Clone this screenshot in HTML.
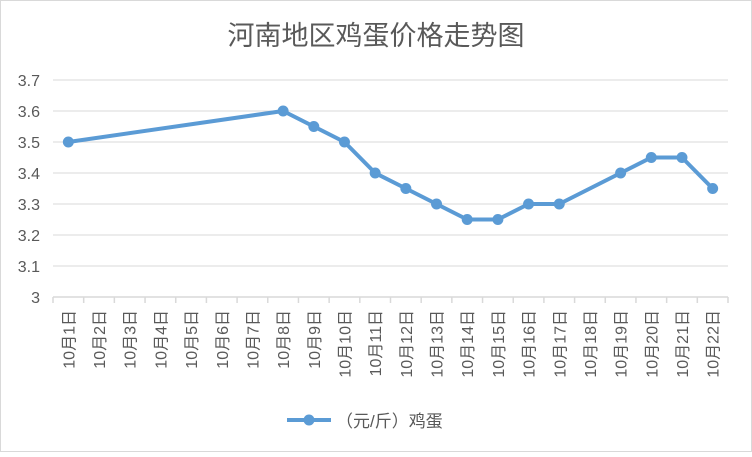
<!DOCTYPE html>
<html><head><meta charset="utf-8"><style>
body{margin:0;background:#fff}
svg text{font-family:"Liberation Sans","Noto Sans CJK SC",sans-serif}
</style></head><body>
<svg id="c" width="752" height="452" xmlns="http://www.w3.org/2000/svg">
<rect x="0.5" y="0.5" width="751" height="451" fill="#fff" stroke="#d9d9d9"/>
<text x="376" y="45" text-anchor="middle" font-size="27" fill="#595959">河南地区鸡蛋价格走势图</text>
<g id="grid"></g><g id="xaxis"></g><g id="yaxis"></g><g id="series"></g>
<g>
<line x1="287" y1="420" x2="331" y2="420" stroke="#5b9bd5" stroke-width="4"/>
<circle cx="309" cy="420" r="5.5" fill="#5b9bd5"/>
<text x="336" y="427" font-size="17" fill="#595959">（元/斤）鸡蛋</text>
</g>
</svg>
<script>
const categories=["10月1日","10月2日","10月3日","10月4日","10月5日","10月6日","10月7日","10月8日","10月9日","10月10日","10月11日","10月12日","10月13日","10月14日","10月15日","10月16日","10月17日","10月18日","10月19日","10月20日","10月21日","10月22日"];
const values=[3.5,null,null,null,null,null,null,3.6,3.55,3.5,3.4,3.35,3.3,3.25,3.25,3.3,3.3,null,3.4,3.45,3.45,3.35];
const yTicks=[3,3.1,3.2,3.3,3.4,3.5,3.6,3.7];
const X0=53,X1=728,Y0=297,Y1=80,YMIN=3,YMAX=3.7;
const band=(X1-X0)/categories.length;
const xs=i=>X0+band*(i+0.5);
const ys=v=>Y0-(v-YMIN)/(YMAX-YMIN)*(Y0-Y1);
const NS="http://www.w3.org/2000/svg";
function mk(tag,attrs,parent){const e=document.createElementNS(NS,tag);for(const k in attrs)e.setAttribute(k,attrs[k]);document.getElementById(parent).appendChild(e);return e;}
yTicks.forEach(t=>{
  if(t>YMIN){const g=mk('line',{x1:X0,x2:X1,y1:ys(t),y2:ys(t),stroke:'#d9d9d9','stroke-width':1},'grid');
  
  }
  const l=mk('text',{x:40,y:ys(t)+6,'text-anchor':'end','font-size':16,fill:'#595959'},'yaxis');
  l.textContent=String(t);
  
  
});
const ax=mk('line',{x1:X0,x2:X1,y1:Y0,y2:Y0,stroke:'#d9d9d9','stroke-width':1.5},'xaxis');


for(let i=0;i<=categories.length;i++){
  const tk=mk('line',{x1:X0+band*i,x2:X0+band*i,y1:Y0,y2:Y0+6,stroke:'#d9d9d9','stroke-width':1.5},'xaxis');
  
  
}
categories.forEach((c,i)=>{
  const x=xs(i)+6,y=310;
  const t=mk('text',{x:x,y:y,'text-anchor':'end','font-size':16,fill:'#595959',transform:`rotate(-90 ${x} ${y})`},'xaxis');
  t.textContent=c;
  
  
});
const pts=[];values.forEach((v,i)=>{if(v!==null)pts.push([xs(i),ys(v)]);});
const pl=mk('polyline',{points:pts.map(p=>p.join(',')).join(' '),fill:'none',stroke:'#5b9bd5','stroke-width':4,'stroke-linejoin':'round'},'series');


pts.forEach(p=>{
  const c=mk('circle',{cx:p[0],cy:p[1],r:5.5,fill:'#5b9bd5'},'series');
  
  
});
</script>
</body></html>
